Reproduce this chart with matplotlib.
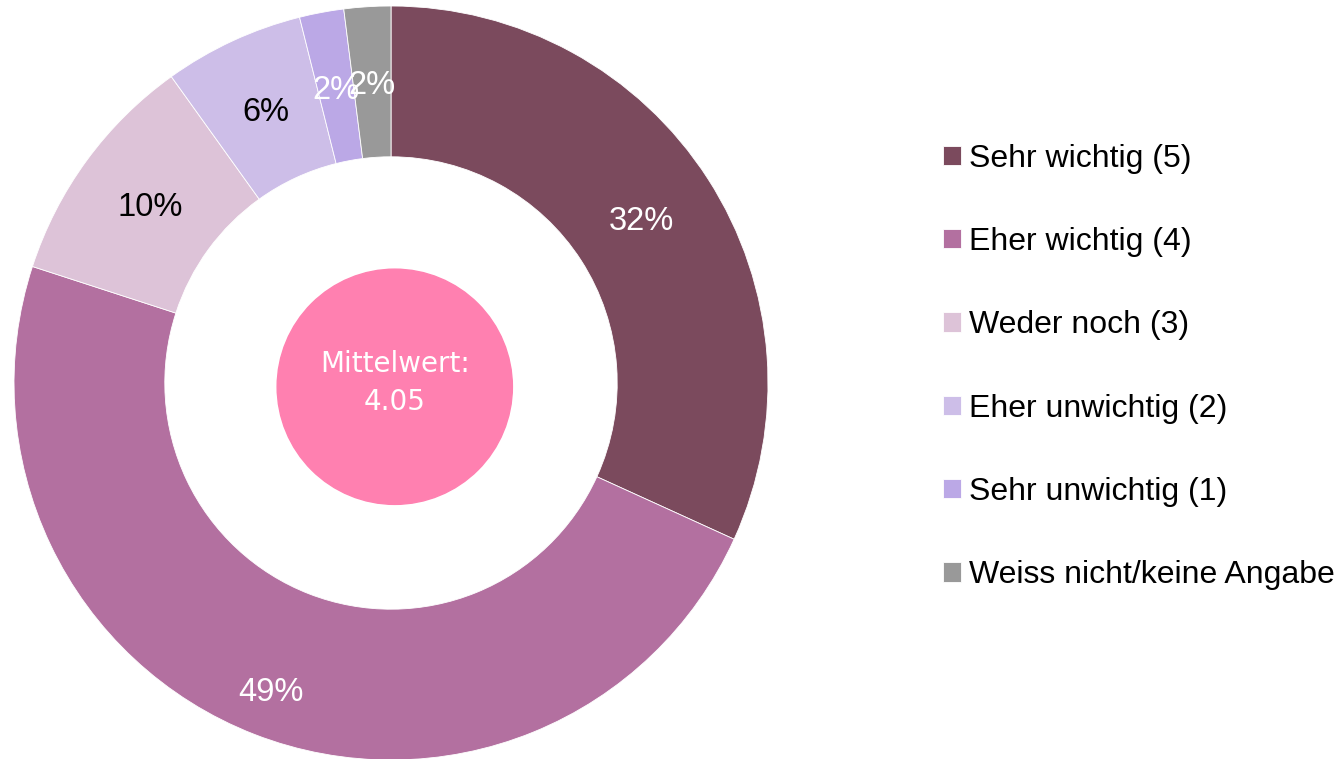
import numpy as np
import matplotlib
matplotlib.use("Agg")
import matplotlib.pyplot as plt
from matplotlib.patches import Circle

categories = ["Sehr wichtig (5)", "Eher wichtig (4)", "Weder noch (3)",
              "Eher unwichtig (2)", "Sehr unwichtig (1)", "Weiss nicht/keine Angabe"]
shares = [31.8, 48.2, 10.1, 6.0, 1.9, 2.0]
pct_labels = ["32%", "49%", "10%", "6%", "2%", "2%"]
mean_value = 4.05

colors = ["#7B4A5D", "#B370A0", "#DDC3D8", "#CDBEE8", "#BBA8E6", "#999999"]
label_colors = ["white", "white", "black", "black", "white", "white"]
label_radius = [0.79, 0.88, 0.79, 0.79, 0.79, 0.79]

plt.rcParams['font.family'] = ['Liberation Sans', 'DejaVu Sans']

fig = plt.figure(figsize=(13.42, 7.59), dpi=100)
# donut centre ~ (391, 383) px, outer radius ~377 px
ax = fig.add_axes([14 / 1342, -1 / 759, 754 / 1342, 754 / 759])

wedges, _ = ax.pie(shares, colors=colors, startangle=90, counterclock=False,
                   radius=1, wedgeprops=dict(width=0.40, edgecolor='white', linewidth=0.6))
ax.set_xlim(-1, 1)
ax.set_ylim(-1, 1)
ax.set_aspect('equal')
ax.axis('off')

for w, lab, c, r in zip(wedges, pct_labels, label_colors, label_radius):
    ang = np.deg2rad((w.theta1 + w.theta2) / 2)
    ax.text(r * np.cos(ang), r * np.sin(ang), lab, ha='center', va='center',
            fontsize=23.5, color=c)

ax.add_patch(Circle((0.01, -0.01), 0.312, color="#FF80B0", zorder=3))
ax.text(0.01, 0.0, "Mittelwert:\n{:.2f}".format(mean_value), ha='center', va='center',
        fontsize=20, color='white', family='DejaVu Sans', zorder=4, linespacing=1.45)

fig.legend(wedges, categories, loc='center left', bbox_to_anchor=(943 / 1342, 1 - 367 / 759),
           frameon=False, fontsize=23, labelspacing=1.67, handlelength=0.55,
           handleheight=0.55, handletextpad=0.25, borderpad=0, borderaxespad=0)

fig.savefig("out.png", dpi=100)
